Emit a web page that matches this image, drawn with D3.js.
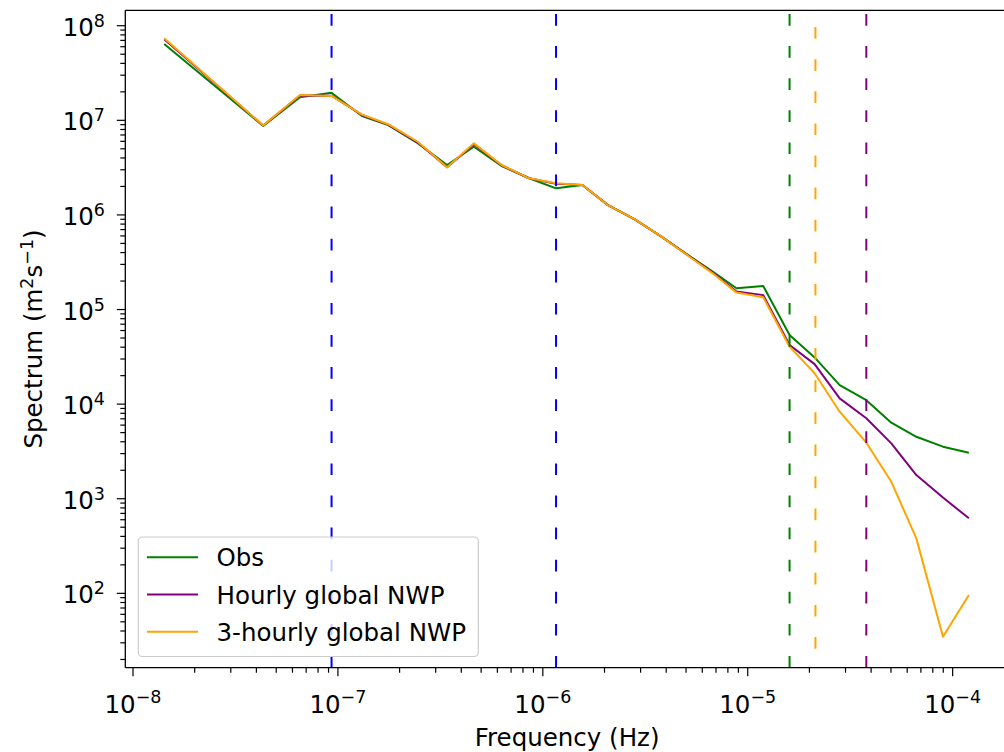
<!DOCTYPE html>
<html lang="en">
<head>
    <meta charset="UTF-8">
    <title>Spectrum</title>
    <style>
        body, html {
            margin: 0;
            overflow: hidden;
            background: #fff;
        }
        text {
            font-family: "DejaVu Sans", sans-serif;
            fill: #000;
        }
    </style>
</head>
<body>

<script src="https://d3js.org/d3.v7.min.js"></script>

<script>
    // Frequencies (Hz) of the spectral estimates
    const freq = [1.42e-8, 4.32e-8, 6.53e-8, 9.31e-8, 1.31e-7, 1.76e-7, 2.46e-7, 3.41e-7,
        4.61e-7, 6.29e-7, 8.58e-7, 1.16e-6, 1.56e-6, 2.08e-6, 2.81e-6, 3.79e-6, 5.12e-6,
        6.77e-6, 8.81e-6, 1.19e-5, 1.60e-5, 2.12e-5, 2.81e-5, 3.79e-5, 5.02e-5, 6.65e-5,
        8.97e-5, 1.20e-4];

    const obs = [6.4e7, 8.7e6, 1.75e7, 1.96e7, 1.11e7, 8.9e6, 5.7e6, 3.37e6, 5.26e6, 3.29e6,
        2.44e6, 1.91e6, 2.07e6, 1.27e6, 8.98e5, 5.89e5, 3.77e5, 2.51e5, 1.68e5, 1.77e5,
        5.37e4, 3.12e4, 1.59e4, 1.10e4, 6.36e3, 4.52e3, 3.55e3, 3.06e3];

    const hourly = [7.2e7, 8.8e6, 1.83e7, 1.82e7, 1.14e7, 9.0e6, 5.8e6, 3.2e6, 5.6e6, 3.35e6,
        2.44e6, 2.14e6, 2.07e6, 1.27e6, 8.98e5, 5.9e5, 3.72e5, 2.45e5, 1.55e5, 1.42e5,
        4.21e4, 2.65e4, 1.15e4, 7.08e3, 3.85e3, 1.78e3, 1.03e3, 621];

    const threeHourly = [7.36e7, 8.8e6, 1.85e7, 1.81e7, 1.15e7, 9.1e6, 5.9e6, 3.19e6, 5.71e6, 3.37e6,
        2.44e6, 2.16e6, 2.07e6, 1.27e6, 8.98e5, 5.89e5, 3.7e5, 2.40e5, 1.51e5, 1.35e5,
        4.05e4, 2.12e4, 8.32e3, 3.91e3, 1.51e3, 381, 34.7, 96];

    const seriesNames = ["Obs", "Hourly global NWP", "3-hourly global NWP"];
    const seriesColors = ["green", "purple", "orange"];

    // Vertical dashed markers (frequency, and optional y extent)
    const vlineFreq = [9.31e-8, 1.16e-6, 1.60e-5, 2.14e-5, 3.79e-5];
    const vlineColors = ["blue", "blue", "green", "orange", "purple"];
    const vlineLow = [null, null, null, 26, null];
    const vlineHigh = [null, null, null, 1.15e8, null];

    const xTickExp = [-8, -7, -6, -5, -4];
    const yTickExp = [2, 3, 4, 5, 6, 7, 8];

    const width = 1004, height = 752;
    const margin = {left: 125.3, top: 10.3, right: 1009, bottom: 667.7};

    const svg = d3.create("svg")
        .attr("width", width)
        .attr("height", height);

    const x = d3.scaleLog()
        .domain([Math.pow(10, -8.0376), Math.pow(10, -3.725)])
        .range([margin.left, margin.right]);

    const y = d3.scaleLog()
        .domain([Math.pow(10, 1.214), Math.pow(10, 8.163)])
        .range([margin.bottom, margin.top]);

    svg.append("clipPath").attr("id", "plot-clip")
        .append("rect")
        .attr("x", margin.left).attr("y", margin.top)
        .attr("width", margin.right - margin.left)
        .attr("height", margin.bottom - margin.top);

    const plot = svg.append("g").attr("clip-path", "url(#plot-clip)");

    // data lines
    const line = d3.line()
        .x((d, i) => x(freq[i]))
        .y(d => y(d));

    [obs, hourly, threeHourly].forEach((vals, k) => {
        plot.append("path")
            .datum(vals)
            .attr("fill", "none")
            .attr("stroke", seriesColors[k])
            .attr("stroke-width", 2)
            .attr("stroke-linejoin", "round")
            .attr("d", line);
    });

    // dashed vertical lines, drawn bottom -> top like axvline
    vlineFreq.forEach((f, i) => {
        const y0 = vlineLow[i] == null ? margin.bottom : y(vlineLow[i]);
        const y1 = vlineHigh[i] == null ? margin.top : y(vlineHigh[i]);
        plot.append("line")
            .attr("x1", x(f)).attr("x2", x(f))
            .attr("y1", y0).attr("y2", y1)
            .attr("stroke", vlineColors[i])
            .attr("stroke-width", 2)
            .attr("stroke-dasharray", "11.7,20.4");
    });

    // spines (right one falls outside the page)
    const axes = svg.append("g").attr("stroke", "#000").attr("stroke-width", 1.3);
    axes.append("line").attr("x1", margin.left).attr("x2", margin.right)
        .attr("y1", margin.top).attr("y2", margin.top);
    axes.append("line").attr("x1", margin.left).attr("x2", margin.right)
        .attr("y1", margin.bottom).attr("y2", margin.bottom);
    axes.append("line").attr("x1", margin.left).attr("x2", margin.left)
        .attr("y1", margin.top).attr("y2", margin.bottom);
    axes.append("line").attr("x1", margin.right).attr("x2", margin.right)
        .attr("y1", margin.top).attr("y2", margin.bottom);

    // tick positions
    const minor = (lo, hi) => {
        const out = [];
        for (let e = lo; e <= hi; e++)
            for (let m = 2; m <= 9; m++) out.push(m * Math.pow(10, e));
        return out;
    };
    const xMinor = minor(-9, -4).filter(v => x(v) >= margin.left && x(v) <= margin.right);
    const yMinor = minor(1, 8).filter(v => y(v) <= margin.bottom && y(v) >= margin.top);

    const ticks = svg.append("g").attr("stroke", "#000").attr("stroke-width", 1.2);
    xTickExp.forEach(e => {
        const px = x(Math.pow(10, e));
        ticks.append("line").attr("x1", px).attr("x2", px)
            .attr("y1", margin.bottom).attr("y2", margin.bottom + 8.5);
    });
    xMinor.forEach(v => {
        ticks.append("line").attr("x1", x(v)).attr("x2", x(v))
            .attr("y1", margin.bottom).attr("y2", margin.bottom + 5);
    });
    yTickExp.forEach(e => {
        const py = y(Math.pow(10, e));
        ticks.append("line").attr("x1", margin.left - 8.5).attr("x2", margin.left)
            .attr("y1", py).attr("y2", py);
    });
    yMinor.forEach(v => {
        ticks.append("line").attr("x1", margin.left - 5).attr("x2", margin.left)
            .attr("y1", y(v)).attr("y2", y(v));
    });

    const expText = e => (e < 0 ? "\u2212" : "") + Math.abs(e);

    // x tick labels
    xTickExp.forEach(e => {
        const t = svg.append("text")
            .attr("x", x(Math.pow(10, e)))
            .attr("y", margin.bottom + 45.5)
            .attr("text-anchor", "middle")
            .style("font-size", "24.5px");
        t.append("tspan").text("10");
        t.append("tspan").attr("dy", -10).style("font-size", "17.5px").text(expText(e));
    });

    // y tick labels
    yTickExp.forEach(e => {
        const t = svg.append("text")
            .attr("x", 105)
            .attr("y", y(Math.pow(10, e)) + 10)
            .attr("text-anchor", "end")
            .style("font-size", "24.5px");
        t.append("tspan").text("10");
        t.append("tspan").attr("dy", -9).style("font-size", "17.5px").text(expText(e));
    });

    // axis labels
    svg.append("text")
        .attr("x", (margin.left + margin.right) / 2)
        .attr("y", 745.5)
        .attr("text-anchor", "middle")
        .style("font-size", "24.5px")
        .text("Frequency (Hz)");

    const yl = svg.append("text")
        .attr("transform", `translate(42,${(margin.top + margin.bottom) / 2}) rotate(-90)`)
        .attr("text-anchor", "middle")
        .style("font-size", "24.5px");
    yl.append("tspan").text("Spectrum (m");
    yl.append("tspan").attr("dy", -9).style("font-size", "17.5px").text("2");
    yl.append("tspan").attr("dy", 9).text("s");
    yl.append("tspan").attr("dy", -9).style("font-size", "17.5px").text("\u22121");
    yl.append("tspan").attr("dy", 9).text(")");

    // legend
    const legend = svg.append("g");
    legend.append("rect")
        .attr("x", 138.3).attr("y", 537)
        .attr("width", 340).attr("height", 119.5)
        .attr("rx", 4)
        .attr("fill", "#fff").attr("fill-opacity", 0.8)
        .attr("stroke", "#cccccc").attr("stroke-width", 1.2);

    seriesNames.forEach((name, i) => {
        const ly = 557.3 + i * 37.2;
        legend.append("line")
            .attr("x1", 147).attr("x2", 198)
            .attr("y1", ly).attr("y2", ly)
            .attr("stroke", seriesColors[i]).attr("stroke-width", 2);
        legend.append("text")
            .attr("x", 216.5).attr("y", ly + 9)
            .style("font-size", "24.5px")
            .text(name);
    });

    document.body.appendChild(svg.node());
</script>

</body>
</html>
